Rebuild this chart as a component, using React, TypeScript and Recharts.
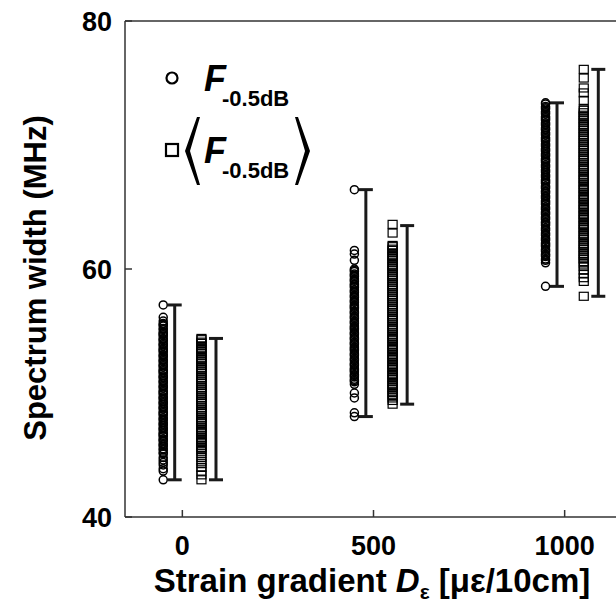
import React from 'react';
import { ScatterChart, Scatter, XAxis, YAxis, ErrorBar } from 'recharts';

// ---------- data ----------
const groups = [0, 500, 1000];
const circleOffset = -50;
const squareOffset = 50;
const circleBarOffset = -20;
const squareBarOffset = 88;

const xTicks = [0, 500, 1000];
const yTicks = [40, 60, 80];

const circles0 = [57.1, 56.1, 55.8, 55.6, 55.5, 55.4, 55.2, 55.1, 54.9, 54.8, 54.7, 54.6, 54.4, 54.3, 54.2, 54.0, 53.9, 53.8, 53.6, 53.5, 53.4, 53.3, 53.1, 53.0, 52.9, 52.7, 52.6, 52.5, 52.3, 52.2, 52.1, 51.9, 51.8, 51.7, 51.6, 51.4, 51.3, 51.2, 51.0, 50.9, 50.8, 50.6, 50.5, 50.4, 50.2, 50.1, 50.0, 49.9, 49.7, 49.6, 49.5, 49.3, 49.2, 49.1, 48.9, 48.8, 48.7, 48.5, 48.4, 48.3, 48.2, 48.0, 47.9, 47.8, 47.6, 47.5, 47.4, 47.2, 47.1, 47.0, 46.8, 46.7, 46.6, 46.5, 46.3, 46.2, 46.1, 45.9, 45.8, 45.7, 45.5, 45.4, 45.2, 45.1, 44.8, 44.6, 44.4, 44.2, 43.9, 43.7, 43.0];
const circles500 = [66.4, 61.5, 61.2, 60.7, 60.0, 59.9, 59.8, 59.6, 59.5, 59.4, 59.2, 59.1, 59.0, 58.8, 58.7, 58.6, 58.5, 58.3, 58.2, 58.1, 57.9, 57.8, 57.7, 57.5, 57.4, 57.3, 57.1, 57.0, 56.9, 56.8, 56.6, 56.5, 56.4, 56.2, 56.1, 56.0, 55.8, 55.7, 55.6, 55.4, 55.3, 55.2, 55.1, 54.9, 54.8, 54.7, 54.5, 54.4, 54.3, 54.1, 54.0, 53.9, 53.7, 53.6, 53.5, 53.4, 53.2, 53.1, 53.0, 52.8, 52.7, 52.6, 52.4, 52.3, 52.2, 52.0, 51.9, 51.8, 51.7, 51.5, 51.4, 51.3, 51.1, 51.0, 50.9, 50.7, 50.0, 49.6, 48.4, 48.1];
const circles1000 = [73.4, 73.3, 73.1, 73.0, 72.9, 72.7, 72.6, 72.5, 72.3, 72.2, 72.1, 72.0, 71.8, 71.7, 71.6, 71.4, 71.3, 71.2, 71.0, 70.9, 70.8, 70.6, 70.5, 70.4, 70.3, 70.1, 70.0, 69.9, 69.7, 69.6, 69.5, 69.3, 69.2, 69.1, 68.9, 68.8, 68.7, 68.6, 68.4, 68.3, 68.2, 68.0, 67.9, 67.8, 67.6, 67.5, 67.4, 67.2, 67.1, 67.0, 66.9, 66.7, 66.6, 66.5, 66.3, 66.2, 66.1, 65.9, 65.8, 65.7, 65.5, 65.4, 65.3, 65.2, 65.0, 64.9, 64.8, 64.6, 64.5, 64.4, 64.2, 64.1, 64.0, 63.8, 63.7, 63.6, 63.5, 63.3, 63.2, 63.1, 62.9, 62.8, 62.7, 62.5, 62.4, 62.3, 62.1, 62.0, 61.9, 61.8, 61.6, 61.5, 61.4, 61.2, 61.1, 61.0, 60.8, 60.7, 60.5, 58.6];

const squares0 = [54.4, 54.3, 54.1, 54.0, 53.8, 53.6, 53.5, 53.3, 53.2, 53.0, 52.8, 52.7, 52.5, 52.4, 52.2, 52.0, 51.9, 51.7, 51.6, 51.4, 51.2, 51.1, 50.9, 50.8, 50.6, 50.4, 50.3, 50.1, 50.0, 49.8, 49.6, 49.5, 49.3, 49.2, 49.0, 48.8, 48.7, 48.5, 48.4, 48.2, 48.0, 47.9, 47.7, 47.6, 47.4, 47.2, 47.1, 46.9, 46.8, 46.6, 46.4, 46.3, 46.1, 46.0, 45.8, 45.6, 45.5, 45.3, 45.1, 44.8, 44.5, 44.3, 44.0, 43.7, 43.4, 43.0];
const squares500 = [63.6, 62.9, 61.9, 61.8, 61.6, 61.5, 61.3, 61.1, 61.0, 60.8, 60.7, 60.5, 60.3, 60.2, 60.0, 59.9, 59.7, 59.5, 59.4, 59.2, 59.1, 58.9, 58.7, 58.6, 58.4, 58.3, 58.1, 57.9, 57.8, 57.6, 57.5, 57.3, 57.1, 57.0, 56.8, 56.7, 56.5, 56.3, 56.2, 56.0, 55.9, 55.7, 55.5, 55.4, 55.2, 55.1, 54.9, 54.7, 54.6, 54.4, 54.3, 54.1, 53.9, 53.8, 53.6, 53.5, 53.3, 53.1, 53.0, 52.8, 52.7, 52.5, 52.3, 52.2, 52.0, 51.9, 51.7, 51.5, 51.4, 51.2, 51.1, 50.9, 50.7, 50.6, 50.4, 50.3, 50.1, 49.9, 49.8, 49.6, 49.4, 49.1];
const squares1000 = [76.1, 75.4, 74.6, 74.2, 73.6, 72.9, 72.8, 72.6, 72.4, 72.3, 72.1, 72.0, 71.8, 71.6, 71.5, 71.3, 71.2, 71.0, 70.8, 70.7, 70.5, 70.4, 70.2, 70.0, 69.9, 69.7, 69.6, 69.4, 69.2, 69.1, 68.9, 68.8, 68.6, 68.4, 68.3, 68.1, 68.0, 67.8, 67.6, 67.5, 67.3, 67.2, 67.0, 66.8, 66.7, 66.5, 66.4, 66.2, 66.0, 65.9, 65.7, 65.6, 65.4, 65.2, 65.1, 64.9, 64.8, 64.6, 64.4, 64.3, 64.1, 64.0, 63.8, 63.6, 63.5, 63.3, 63.2, 63.0, 62.8, 62.7, 62.5, 62.4, 62.2, 62.0, 61.9, 61.7, 61.6, 61.4, 61.2, 61.1, 60.9, 60.8, 60.6, 60.4, 60.2, 59.9, 59.6, 59.3, 59.0, 57.8];

const circleRanges = [[43.0, 57.1], [48.1, 66.4], [58.6, 73.4]];
const squareRanges = [[43.0, 54.4], [49.1, 63.5], [57.8, 76.1]];

const circleSets = [circles0, circles500, circles1000];
const squareSets = [squares0, squares500, squares1000];

// ---------- derived tables ----------
const circleData = groups.flatMap((g, i) => circleSets[i].map((v) => ({ x: g + circleOffset, y: v })));
const squareData = groups.flatMap((g, i) => squareSets[i].map((v) => ({ x: g + squareOffset, y: v })));
const makeBars = (ranges: number[][], off: number) =>
  groups.map((g, i) => {
    const [lo, hi] = ranges[i];
    const mid = (lo + hi) / 2;
    return { x: g + off, y: mid, err: [mid - lo, hi - mid] };
  });
const circleBars = makeBars(circleRanges, circleBarOffset);
const squareBars = makeBars(squareRanges, squareBarOffset);

const FONT = '"Liberation Sans", Arial, Helvetica, sans-serif';
const AX = '#333';

const CircleShape = (p: any) => (
  <circle cx={p.cx} cy={p.cy} r={4} fill="none" stroke="#000" strokeWidth={1.5} />
);
const SquareShape = (p: any) => (
  <rect x={p.cx - 4.5} y={p.cy - 4} width={9} height={8} fill="none" stroke="#000" strokeWidth={1.2} />
);
const NoShape = () => <g />;

const tickStyle = { fill: '#000', fontSize: 27, fontWeight: 700, fontFamily: FONT };

function Overlay() {
  return (
    <svg width={616} height={607} style={{ position: 'absolute', left: 0, top: 0, pointerEvents: 'none' }}>
      <g fontFamily={FONT} fontWeight={700} fill="#000">
        {/* y title */}
        <text x={35} y={278} textAnchor="middle" dominantBaseline="central" fontSize={31} transform="rotate(-90 35 278)">
          Spectrum width (MHz)
        </text>
        {/* x title */}
        <text x={372} y={592} textAnchor="middle" fontSize={33}>
          Strain gradient <tspan fontStyle="italic">D</tspan>
          <tspan fontSize={21} dy={7}>ε</tspan>
          <tspan dy={-7}> [με/10cm]</tspan>
        </text>
        {/* legend */}
        <circle cx={172} cy={78} r={5.5} fill="none" stroke="#000" strokeWidth={2.2} />
        <text x={204} y={91} fontSize={36} fontStyle="italic">F</text>
        <text x={222} y={106} fontSize={22}>-0.5dB</text>
        <rect x={166} y={144} width={12} height={12} fill="none" stroke="#000" strokeWidth={2.2} />
        <polygon points="197,117 185,151 197,185 200,185 190,151 200,117" fill="#000" />
        <text x={204} y={163} fontSize={36} fontStyle="italic">F</text>
        <text x={222} y={178} fontSize={22}>-0.5dB</text>
        <polygon points="298,117 310,151 298,185 295,185 305,151 295,117" fill="#000" />
      </g>
    </svg>
  );
}

export default function App() {
  return (
    <div style={{ position: 'absolute', left: 0, top: 0, width: 616, height: 607, overflow: 'hidden', background: '#fff' }}>
      <ScatterChart width={632} height={607} margin={{ top: 0, right: 0, bottom: 0, left: 0 }}>
        <XAxis
          type="number"
          dataKey="x"
          domain={[-150, 1150]}
          ticks={xTicks}
          allowDataOverflow
          height={90}
          tickSize={-7}
          tickMargin={26}
          stroke={AX}
          strokeWidth={1.5}
          tick={tickStyle}
        />
        <XAxis
          xAxisId="top"
          orientation="top"
          type="number"
          domain={[-150, 1150]}
          height={21}
          tick={false}
          tickLine={false}
          stroke={AX}
          strokeWidth={1.5}
        />
        <YAxis
          type="number"
          dataKey="y"
          domain={[40, 80]}
          ticks={yTicks}
          allowDataOverflow
          width={125}
          tickSize={-7}
          tickMargin={20}
          stroke={AX}
          strokeWidth={1.5}
          tick={tickStyle}
        />
        <YAxis
          yAxisId="right"
          orientation="right"
          type="number"
          domain={[40, 80]}
          ticks={yTicks}
          width={10}
          tickSize={-7}
          tick={() => <g />}
          stroke={AX}
          strokeWidth={1.5}
        />
        <Scatter data={circleData} shape={CircleShape} isAnimationActive={false} />
        <Scatter data={squareData} shape={SquareShape} isAnimationActive={false} />
        <Scatter data={circleBars} shape={NoShape} isAnimationActive={false}>
          <ErrorBar dataKey="err" direction="y" width={7} stroke="#1a1a1a" strokeWidth={3} />
        </Scatter>
        <Scatter data={squareBars} shape={NoShape} isAnimationActive={false}>
          <ErrorBar dataKey="err" direction="y" width={7} stroke="#1a1a1a" strokeWidth={3} />
        </Scatter>
      </ScatterChart>
      <Overlay />
    </div>
  );
}
